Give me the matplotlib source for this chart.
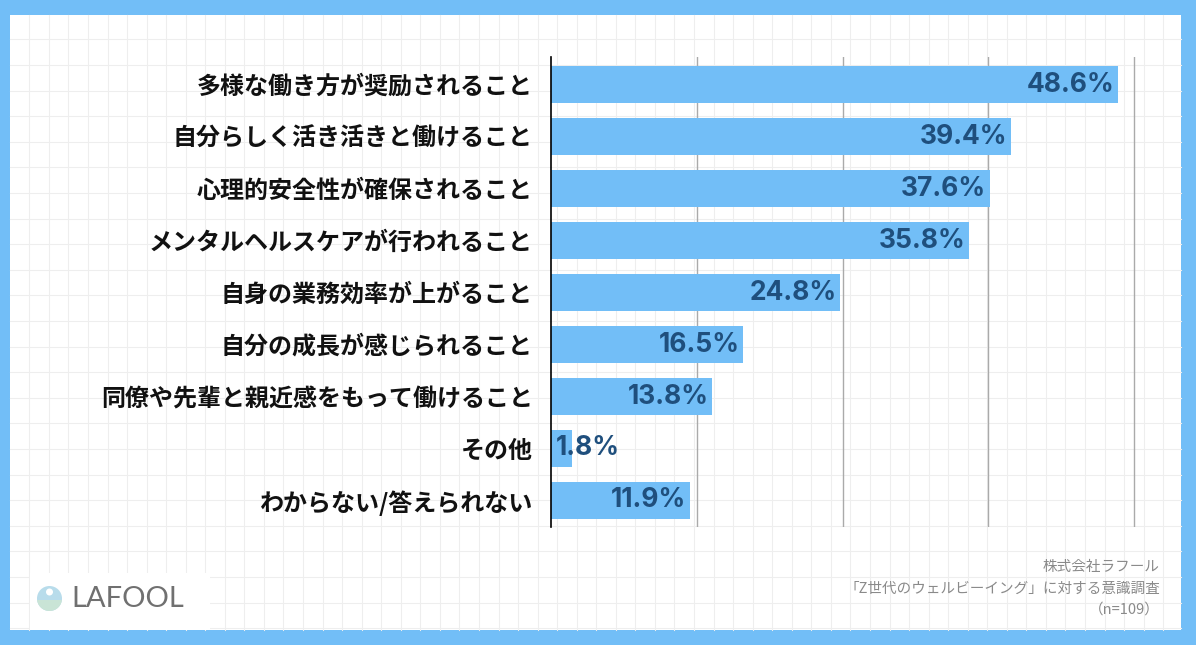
import matplotlib.pyplot as plt
from matplotlib.patches import Rectangle, Circle
import numpy as np

plt.rcParams['font.family'] = ['Noto Sans CJK JP', 'DejaVu Sans']

categories = [
    "多様な働き方が奨励されること",
    "自分らしく活き活きと働けること",
    "心理的安全性が確保されること",
    "メンタルヘルスケアが行われること",
    "自身の業務効率が上がること",
    "自分の成長が感じられること",
    "同僚や先輩と親近感をもって働けること",
    "その他",
    "わからない/答えられない",
]
values = [48.6, 39.4, 37.6, 35.8, 24.8, 16.5, 13.8, 1.8, 11.9]
grid_ticks = [12.5, 25, 37.5, 50]
footer = ["株式会社ラフール", "「Z世代のウェルビーイング」に対する意識調査", "（n=109）"]

blue = "#72BEF7"
navy = "#1F4F7D"
W, H = 1196, 645

fig = plt.figure(figsize=(W / 100, H / 100), dpi=100)
fig.patch.set_facecolor(blue)

# white card with faint grid pattern
bg = fig.add_axes([0, 0, 1, 1])
bg.set_xlim(0, W)
bg.set_ylim(H, 0)
bg.axis("off")
bg.add_patch(Rectangle((10, 15), W - 25, H - 30, facecolor="white", edgecolor="none", zorder=0))
for x in np.arange(29.3, W - 15, 19.55):
    bg.plot([x, x], [15, H - 15], color="#EEEEEE", lw=0.8, zorder=1)
for y in np.arange(39.3, H - 15, 25.6):
    bg.plot([10, W - 15], [y, y], color="#EEEEEE", lw=0.8, zorder=1)
bg.add_patch(Rectangle((30, 573), 180, 57, facecolor="white", edgecolor="none", zorder=2))

# logo
logo = Circle((49.5, 598.5), 12.5, facecolor="#B8DCEB", edgecolor="none", zorder=3)
bg.add_patch(logo)
bg.add_patch(Rectangle((37, 600), 25, 12, facecolor="#C9E4D6", edgecolor="none",
                       clip_path=logo, zorder=3))
bg.add_patch(Circle((49.5, 592), 3.5, facecolor="white", edgecolor="none", zorder=4))
bg.text(71, 599, "LAFOOL", fontsize=21, color="#707070", family="Lato",
        fontweight="normal", va="center", ha="left", zorder=4)

# footer
for i, line in enumerate(footer):
    bg.text(1160, 567 + i * 21.5, line, fontsize=10.5, color="#8A8A8A",
            ha="right", va="center", zorder=4)

ax = fig.add_axes([551 / W, 1 - 527 / H, (1157.5 - 551) / W, 470 / H])
ax.patch.set_alpha(0)
y = np.arange(len(categories))
ax.barh(y, values, height=0.71, color=blue, zorder=2)
ax.set_xlim(0, 52)
ax.set_ylim(8.51, -0.53)
ax.set_xticks(grid_ticks)
ax.set_xticklabels([])
ax.tick_params(length=0)
ax.grid(axis="x", color="#AAAAAA", lw=1, zorder=1)
for s in ["top", "right", "bottom"]:
    ax.spines[s].set_visible(False)
ax.spines["left"].set_color("black")
ax.spines["left"].set_linewidth(1.2)
ax.spines["left"].set_zorder(3)
ax.set_yticks(y)
ax.set_yticklabels(categories, fontsize=17.3, fontweight="bold", color="#111111")
ax.tick_params(axis="y", pad=13)

for yi, v in zip(y, values):
    if v < 5:
        ax.text(0.4, yi, f"{v}%", ha="left", va="center", fontsize=19,
                fontweight="bold", color=navy, family="Inter", zorder=4)
    else:
        ax.text(v - 0.3, yi, f"{v}%", ha="right", va="center", fontsize=19,
                fontweight="bold", color=navy, family="Inter", zorder=4)

fig.savefig("out.png", dpi=100, facecolor=fig.get_facecolor())
